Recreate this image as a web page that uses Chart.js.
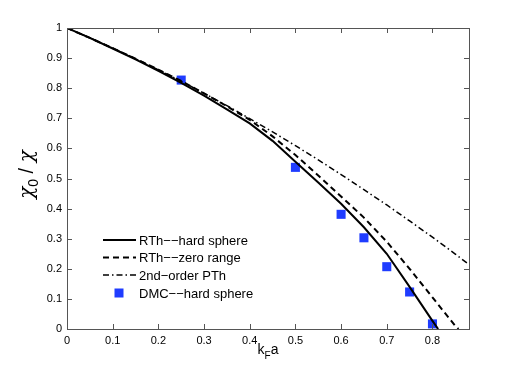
<!DOCTYPE html>
<html>
<head>
<meta charset="utf-8">
<script src="https://cdn.jsdelivr.net/npm/chart.js@4"></script>
<style>
  body { margin: 0; background: #fff; }
  #wrap { width: 518px; height: 371px; }
</style>
</head>
<body>
<div id="wrap"><canvas id="chart" width="518" height="371"></canvas></div>
<script>
// RTh -- hard sphere (solid)
var kfaHard = [0, 0.05, 0.1, 0.15, 0.2, 0.25, 0.3, 0.35, 0.4, 0.45, 0.5, 0.55, 0.6, 0.65, 0.7, 0.75, 0.8, 0.8125];
var rthHard = [1, 0.967, 0.932, 0.896, 0.858, 0.818, 0.775, 0.73, 0.683, 0.625, 0.556, 0.487, 0.416, 0.338, 0.25, 0.14, 0.027, 0];

// RTh -- zero range (dashed)
var kfaZero = [0, 0.05, 0.1, 0.15, 0.2, 0.25, 0.3, 0.35, 0.4, 0.45, 0.5, 0.55, 0.6, 0.65, 0.7, 0.75, 0.8, 0.85, 0.857];
var rthZero = [1, 0.967, 0.933, 0.898, 0.862, 0.824, 0.783, 0.74, 0.695, 0.64, 0.578, 0.51, 0.44, 0.37, 0.29, 0.2, 0.105, 0.01, 0];

// 2nd-order PTh (dash-dot)
var kfaPT = [0, 0.05, 0.1, 0.15, 0.2, 0.25, 0.3, 0.35, 0.4, 0.45, 0.5, 0.55, 0.6, 0.65, 0.7, 0.75, 0.8, 0.85, 0.88];
var pth2 = [1, 0.967, 0.933, 0.898, 0.861, 0.823, 0.783, 0.742, 0.699, 0.655, 0.609, 0.562, 0.513, 0.463, 0.412, 0.359, 0.305, 0.249, 0.214];

// DMC -- hard sphere (squares)
var dmcX = [0.25, 0.5, 0.6, 0.65, 0.7, 0.75, 0.8];
var dmcY = [0.827, 0.537, 0.381, 0.303, 0.207, 0.123, 0.017];

var legendLabels = ["RTh\u2212\u2212hard sphere", "RTh\u2212\u2212zero range", "2nd\u2212order PTh", "DMC\u2212\u2212hard sphere"];

function pts(xs, ys) {
    return xs.map(function (x, i) { return {x: x, y: ys[i]}; });
}

function tickLabel(v) {
    return String(Number(v.toFixed(1)));
}

var axisColor = "#555";
var fontName = "'Liberation Sans', Arial, sans-serif";
var greekFont = "italic 'DejaVu Serif', serif";

// box + inward tick marks on all four sides (matlab style)
var boxPlugin = {
    id: "box",
    afterDraw: function (chart) {
        var ctx = chart.ctx, a = chart.chartArea;
        var xs = chart.scales.x, ys = chart.scales.y;
        ctx.save();
        ctx.strokeStyle = axisColor;
        ctx.lineWidth = 1;
        ctx.strokeRect(a.left + 0.5, a.top + 0.5, a.right - a.left, a.bottom - a.top);
        ctx.beginPath();
        xs.ticks.forEach(function (t) {
            var p = Math.round(xs.getPixelForValue(t.value)) + 0.5;
            ctx.moveTo(p, a.bottom); ctx.lineTo(p, a.bottom - 5);
            ctx.moveTo(p, a.top); ctx.lineTo(p, a.top + 5);
        });
        ys.ticks.forEach(function (t) {
            var p = Math.round(ys.getPixelForValue(t.value)) + 0.5;
            ctx.moveTo(a.left, p); ctx.lineTo(a.left + 5, p);
            ctx.moveTo(a.right, p); ctx.lineTo(a.right - 5, p);
        });
        ctx.stroke();

        // axis titles with subscripts
        ctx.fillStyle = "#000";
        ctx.textBaseline = "alphabetic";
        ctx.textAlign = "left";
        var cx = (a.left + a.right) / 2;
        ctx.font = "14px " + fontName;
        var wk = ctx.measureText("k").width, wa = ctx.measureText("a").width;
        ctx.font = "10px " + fontName;
        var wf = ctx.measureText("F").width;
        var x0 = cx - (wk + wf + wa) / 2;
        ctx.font = "14px " + fontName;
        ctx.fillText("k", x0, 354);
        ctx.font = "10px " + fontName;
        ctx.fillText("F", x0 + wk, 359);
        ctx.font = "14px " + fontName;
        ctx.fillText("a", x0 + wk + wf, 354);

        ctx.translate(33, (a.top + a.bottom) / 2 - 4);
        ctx.rotate(-Math.PI / 2);
        var gf = greekFont.replace("italic ", "italic 20px ");
        ctx.font = gf;
        var w1 = ctx.measureText("\u03c7").width;
        ctx.font = "20px " + fontName;
        var wsl = ctx.measureText(" / ").width;
        ctx.font = "14px " + fontName;
        var w2 = ctx.measureText("0").width;
        var sx = -(w1 * 2 + w2 + wsl) / 2;
        ctx.font = gf;
        ctx.fillText("\u03c7", sx, 0);
        ctx.font = "14px " + fontName;
        ctx.fillText("0", sx + w1, 5);
        ctx.font = "20px " + fontName;
        ctx.fillText(" / ", sx + w1 + w2, 0);
        ctx.font = gf;
        ctx.fillText("\u03c7", sx + w1 + w2 + wsl, 0);
        ctx.restore();
    }
};

// legend without frame, inside the axes at lower left
var legendPlugin = {
    id: "legendBox",
    afterDraw: function (chart) {
        var ctx = chart.ctx;
        var rowY = [240, 257.5, 275, 293];
        var dashes = [[], [6, 4], [6, 3, 1.5, 3]];
        var widths = [2, 2, 1.5];
        ctx.save();
        for (var i = 0; i < 3; i++) {
            ctx.beginPath();
            ctx.setLineDash(dashes[i]);
            ctx.lineWidth = widths[i];
            ctx.strokeStyle = "#000";
            ctx.moveTo(103, rowY[i]);
            ctx.lineTo(136, rowY[i]);
            ctx.stroke();
        }
        ctx.setLineDash([]);
        ctx.fillStyle = "#1f3cff";
        ctx.fillRect(114.5, rowY[3] - 4.5, 9, 9);
        ctx.fillStyle = "#000";
        ctx.font = "13px " + fontName;
        ctx.textBaseline = "middle";
        for (var j = 0; j < 4; j++) {
            ctx.fillText(legendLabels[j], 139, rowY[j] + 1);
        }
        ctx.restore();
    }
};

var ctx = document.getElementById("chart").getContext("2d");

new Chart(ctx, {
    type: "scatter",
    data: {
        datasets: [
            {
                label: legendLabels[0],
                data: pts(kfaHard, rthHard),
                showLine: true,
                borderColor: "#000",
                borderWidth: 2,
                pointRadius: 0,
                tension: 0
            },
            {
                label: legendLabels[1],
                data: pts(kfaZero, rthZero),
                showLine: true,
                borderColor: "#000",
                borderWidth: 2,
                borderDash: [6, 4],
                pointRadius: 0,
                tension: 0
            },
            {
                label: legendLabels[2],
                data: pts(kfaPT, pth2),
                showLine: true,
                borderColor: "#000",
                borderWidth: 1.5,
                borderDash: [6, 3, 1.5, 3],
                pointRadius: 0,
                tension: 0
            },
            {
                label: legendLabels[3],
                data: pts(dmcX, dmcY),
                showLine: false,
                pointStyle: "rect",
                pointRadius: 6.4,
                pointBorderWidth: 0,
                backgroundColor: "#1f3cff",
                borderColor: "#1f3cff"
            }
        ]
    },
    options: {
        responsive: false,
        animation: false,
        layout: { padding: { left: 0, right: 49, top: 28, bottom: 0 } },
        plugins: {
            legend: { display: false },
            tooltip: { enabled: false }
        },
        scales: {
            x: {
                type: "linear",
                min: 0,
                max: 0.88,
                grid: { display: false, drawTicks: false },
                border: { display: false },
                ticks: {
                    stepSize: 0.1,
                    includeBounds: false,
                    maxRotation: 0,
                    padding: 5,
                    color: "#000",
                    font: { family: fontName, size: 11 },
                    callback: tickLabel
                },
                afterFit: function (s) { s.height = 42; }
            },
            y: {
                type: "linear",
                min: 0,
                max: 1,
                grid: { display: false, drawTicks: false },
                border: { display: false },
                ticks: {
                    stepSize: 0.1,
                    padding: 5,
                    color: "#000",
                    font: { family: fontName, size: 11 },
                    callback: tickLabel
                },
                afterFit: function (s) { s.width = 67; }
            }
        }
    },
    plugins: [boxPlugin, legendPlugin]
});
</script>
</body>
</html>
